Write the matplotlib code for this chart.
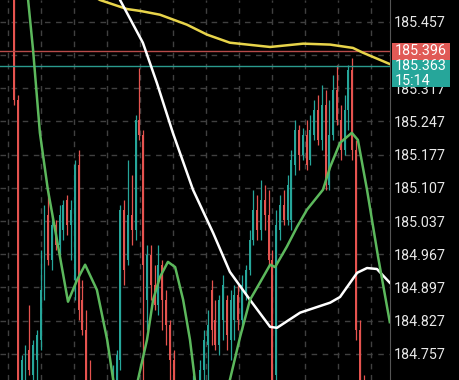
import numpy as np
import matplotlib.pyplot as plt
import matplotlib.transforms as mtransforms
from matplotlib.patches import Rectangle

plt.rcParams['font.family'] = ['Roboto', 'DejaVu Sans']

# candle data (one candle per bar index)
opens = [185.608, 185.292, 184.702, 184.723, 184.765, 184.712, 184.744, 184.786, 184.892, 185.050,
         184.955, 185.029, 184.987, 185.018, 185.081, 185.029, 184.913, 185.155, 184.870, 184.807,
         184.702, 184.660, 184.618, 184.639, 184.670, 184.649, 184.670, 184.702, 184.744, 185.060,
         184.955, 185.050, 185.018, 185.250, 185.218, 184.870, 184.965, 184.902, 184.860, 184.944,
         184.870, 184.818, 184.744, 184.660, 184.618, 184.639, 184.607, 184.660, 184.691, 184.670,
         184.723, 184.776, 184.892, 184.828, 184.776, 184.828, 184.870, 184.786, 184.828, 184.881,
         184.828, 184.881, 184.934, 184.997, 185.060, 185.018, 185.081, 185.050, 184.955, 184.712,
         185.018, 185.071, 185.039, 185.039, 185.155, 185.229, 185.176, 185.218, 185.166, 185.218,
         185.271, 185.208, 185.282, 185.113, 185.218, 185.313, 185.250, 185.187, 185.271, 185.355,
         185.187, 184.807, 184.681]
highs = [185.630, 185.303, 184.755, 184.776, 184.860, 184.786, 184.807, 184.976, 185.071, 185.102,
         185.050, 185.039, 185.071, 185.081, 185.092, 185.081, 185.166, 185.187, 184.913, 184.849,
         184.744, 184.681, 184.670, 184.691, 184.685, 184.702, 184.733, 184.765, 185.071, 185.081,
         185.166, 185.134, 185.261, 185.360, 185.229, 184.987, 184.987, 184.944, 184.987, 184.955,
         184.892, 184.828, 184.765, 184.670, 184.649, 184.649, 184.670, 184.712, 184.702, 184.744,
         184.807, 184.849, 184.913, 184.870, 184.881, 184.923, 184.881, 184.892, 184.902, 184.902,
         184.923, 184.944, 185.018, 185.102, 185.092, 185.124, 185.113, 185.102, 184.976, 185.060,
         185.092, 185.102, 185.134, 185.187, 185.250, 185.240, 185.233, 185.250, 185.261, 185.292,
         185.303, 185.324, 185.313, 185.292, 185.345, 185.366, 185.282, 185.303, 185.366, 185.381,
         185.208, 184.828, 184.712]
lows = [185.282, 184.660, 184.670, 184.691, 184.712, 184.681, 184.702, 184.765, 184.870, 184.944,
        184.934, 184.976, 184.965, 184.997, 185.008, 184.955, 184.870, 184.828, 184.797, 184.660,
        184.618, 184.597, 184.597, 184.618, 184.628, 184.639, 184.660, 184.681, 184.723, 184.902,
        184.944, 184.987, 184.997, 185.208, 184.702, 184.807, 184.870, 184.849, 184.839, 184.807,
        184.776, 184.702, 184.639, 184.607, 184.597, 184.597, 184.597, 184.639, 184.660, 184.660,
        184.702, 184.702, 184.776, 184.765, 184.755, 184.786, 184.765, 184.744, 184.786, 184.807,
        184.807, 184.870, 184.923, 184.987, 184.997, 184.997, 185.018, 184.944, 184.660, 184.681,
        184.997, 185.029, 185.029, 185.018, 185.134, 185.145, 185.166, 185.145, 185.155, 185.208,
        185.197, 185.187, 185.102, 185.102, 185.208, 185.240, 185.166, 185.176, 185.229, 185.166,
        184.786, 184.618, 184.597]
closes = [185.292, 184.681, 184.744, 184.765, 184.723, 184.776, 184.797, 184.892, 185.050, 184.955,
          185.029, 184.987, 185.050, 185.071, 185.029, 185.060, 185.155, 184.849, 184.807, 184.691,
          184.660, 184.618, 184.649, 184.670, 184.649, 184.681, 184.712, 184.755, 185.060, 184.934,
          185.050, 185.018, 185.250, 185.218, 184.944, 184.965, 184.902, 184.860, 184.944, 184.870,
          184.818, 184.744, 184.660, 184.618, 184.639, 184.607, 184.660, 184.691, 184.670, 184.723,
          184.786, 184.818, 184.807, 184.776, 184.870, 184.902, 184.797, 184.870, 184.881, 184.828,
          184.902, 184.934, 184.997, 185.060, 185.018, 185.081, 185.050, 184.955, 184.702, 185.029,
          185.071, 185.039, 185.113, 185.166, 185.229, 185.176, 185.218, 185.155, 185.229, 185.271,
          185.208, 185.282, 185.113, 185.218, 185.313, 185.250, 185.187, 185.271, 185.355, 185.187,
          184.807, 184.660, 184.618]

# moving averages (bar index, price)
ma_slow_t = [17.4, 22.6, 29.7, 33.2, 38.4, 45.5, 50.8, 56.8, 67.4, 76.1, 83.2, 89.2, 91.8, 98.9]
ma_slow_p = [185.528, 185.503, 185.484, 185.480, 185.472, 185.451, 185.430, 185.413, 185.404,
             185.411, 185.409, 185.402, 185.392, 185.368]
ma_mid_t = [25.8, 27.9, 33.9, 37.6, 41.8, 47.1, 52.4, 56.8, 62.1, 67.4, 69.2, 75.3, 83.2, 85.8,
            90.3, 92.9, 95.5, 98.9]
ma_mid_p = [185.556, 185.503, 185.413, 185.328, 185.223, 185.103, 185.012, 184.930, 184.871,
            184.814, 184.812, 184.844, 184.865, 184.877, 184.928, 184.938, 184.936, 184.907]
ma_fast_t = [2.9, 3.7, 5.0, 6.8, 8.9, 11.3, 14.2, 16.6, 18.7, 21.8, 24.5, 26.1, 29.2, 32.6, 35.0,
             36.6, 38.4, 40.5, 42.4, 44.5, 46.3, 47.6, 52.1, 56.8, 59.5, 62.1, 64.7, 67.4, 68.7,
             71.8, 74.5, 77.1, 81.3, 83.2, 85.8, 88.9, 90.5, 91.8, 92.9, 95.8, 98.9]
ma_fast_p = [185.546, 185.503, 185.398, 185.223, 185.103, 184.997, 184.867, 184.913, 184.945,
             184.892, 184.787, 184.702, 184.576, 184.702, 184.787, 184.871, 184.919, 184.951,
             184.940, 184.871, 184.787, 184.702, 184.565, 184.702, 184.793, 184.871, 184.907,
             184.945, 184.940, 184.983, 185.025, 185.061, 185.103, 185.151, 185.202, 185.223,
             185.208, 185.151, 185.103, 184.962, 184.824]

bid_price = 185.396
last_price = 185.363
countdown = '15:14'
yticks = [185.457, 185.387, 185.317, 185.247, 185.177, 185.107, 185.037, 184.967, 184.897,
          184.827, 184.757]
hidden_ticks = [185.387]   # fully covered by the bid tag

up_col = '#26a69a'
down_col = '#e5534f'

fig = plt.figure(figsize=(4.6, 3.8), dpi=100, facecolor='black')
ax = fig.add_axes([0, 0, 390 / 460, 1])
ax.set_facecolor('black')
ax.set_xlim(-3.7, 98.95)
ax.set_ylim(184.702, 185.503)

# grid
for v in yticks:
    ax.axhline(v, color='#404040', lw=1, ls=(0, (4, 4)), zorder=0)
for gx in np.arange(-1.58, 99, 8.68):
    ax.axvline(gx, color='#404040', lw=1, ls=(0, (4, 4)), zorder=0)

# candles
t = np.arange(len(opens))
o = np.array(opens)
c = np.array(closes)
cols = [up_col if cc >= oo else down_col for oo, cc in zip(o, c)]
ax.vlines(t, lows, highs, colors=cols, lw=0.9, zorder=2)
body = np.maximum(np.abs(c - o), 0.003)
ax.bar(t, body, bottom=np.minimum(o, c), width=0.5, color=cols, zorder=2)

# price lines
ax.axhline(bid_price, color='#b84c4a', lw=1, zorder=3)
ax.axhline(last_price, color='#2a9a8e', lw=1, zorder=3)

# moving averages
ax.plot(ma_slow_t, ma_slow_p, color='#e8d44a', lw=1.8, zorder=4)
ax.plot(ma_mid_t, ma_mid_p, color='white', lw=1.8, zorder=4)
ax.plot(ma_fast_t, ma_fast_p, color='#5cb85c', lw=1.8, zorder=4)

# right price axis
for s in ['top', 'left', 'bottom']:
    ax.spines[s].set_visible(False)
ax.spines['right'].set_color('#555555')
ax.set_xticks([])
ax.yaxis.tick_right()
ax.set_yticks(yticks)
ax.set_yticklabels(['' if v in hidden_ticks else f'{v:.3f}' for v in yticks])
ax.tick_params(axis='y', length=0, pad=3, labelsize=10.3, labelcolor='#e8e8e8')

# price tags
tr = mtransforms.blended_transform_factory(ax.transAxes, ax.transData)
ax.add_patch(Rectangle((1.005, 185.377), 58 / 390, 0.036, transform=tr,
                       facecolor='#e05a56', edgecolor='none', clip_on=False, zorder=6))
ax.add_patch(Rectangle((1.005, 185.320), 58 / 390, 0.057, transform=tr,
                       facecolor='#26a69a', edgecolor='none', clip_on=False, zorder=6))
ax.text(1.013, bid_price, f'{bid_price:.3f}', transform=tr, color='white', fontsize=10.3,
        va='center', ha='left', zorder=7, clip_on=False)
ax.text(1.013, last_price, f'{last_price:.3f}', transform=tr, color='white', fontsize=10.3,
        va='center', ha='left', zorder=7, clip_on=False)
ax.text(1.013, 185.332, countdown, transform=tr, color='white', fontsize=10.3,
        va='center', ha='left', zorder=7, clip_on=False)

fig.savefig('out.png', dpi=100, facecolor='black')
